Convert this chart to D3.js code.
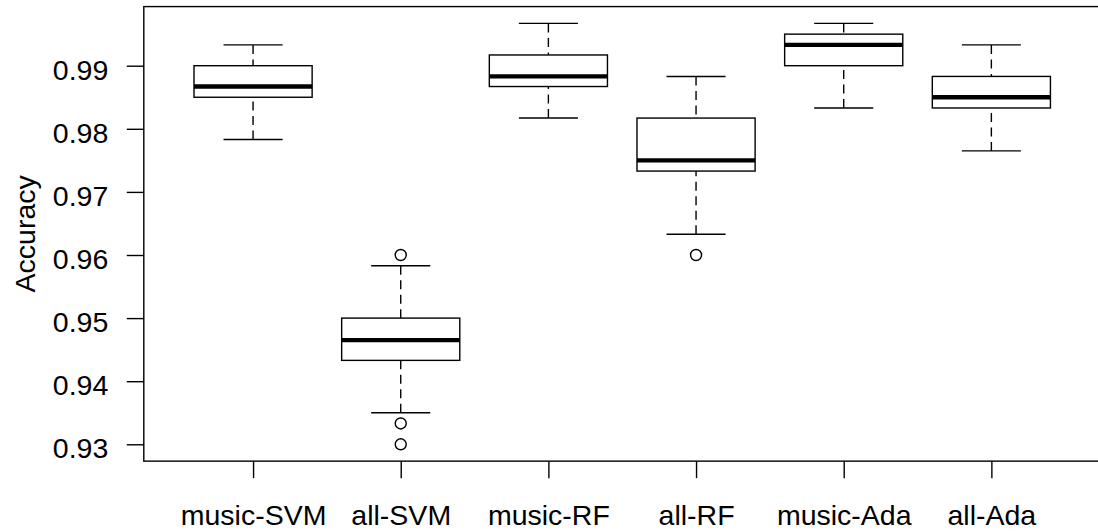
<!DOCTYPE html>
<html>
<head>
<meta charset="utf-8">
<script src="https://cdn.jsdelivr.net/npm/d3@7"></script>
<style>
  html, body { margin: 0; padding: 0; background: #fff; }
  svg { display: block; }
  text { font-family: "Liberation Sans", Arial, sans-serif; fill: #000; }
</style>
</head>
<body>
<svg id="chart" width="1098" height="531"></svg>
<script>
// ---- data ----
const categories  = ["music-SVM", "all-SVM", "music-RF", "all-RF", "music-Ada", "all-Ada"];
const whiskerLow  = [0.9783, 0.9350, 0.9817, 0.9633, 0.9833, 0.9765];
const q1          = [0.9850, 0.9433, 0.9867, 0.9733, 0.9900, 0.9833];
const medians     = [0.9867, 0.9465, 0.9883, 0.9750, 0.9933, 0.9850];
const q3          = [0.9900, 0.9500, 0.9917, 0.9817, 0.9950, 0.9883];
const whiskerHigh = [0.9933, 0.9583, 0.9967, 0.9883, 0.9967, 0.9933];
const outliers    = [[], [0.9600, 0.9333, 0.9300], [], [0.9600], [], []];
const yTicks      = [0.93, 0.94, 0.95, 0.96, 0.97, 0.98, 0.99];
const yLabel      = "Accuracy";

// ---- layout ----
const svg = d3.select("#chart");
const lw = 1.4;
const fontSize = 28.5;

// x: positions 1..n, R-style limits [0.5, n+0.5] extended 4%
const n = categories.length;
const xLo = 0.5 - 0.04 * n, xHi = n + 0.5 + 0.04 * n;
const x = d3.scaleLinear().domain([xLo, xHi]).range([143.8, 143.8 + (xHi - xLo) * 147.66]);

// y: data range extended 4%
const allVals = whiskerLow.concat(whiskerHigh, outliers.flat());
const dMin = d3.min(allVals), dMax = d3.max(allVals);
const ext = (dMax - dMin) * 0.04;
const y = d3.scaleLinear().domain([0.93, 0.99]).range([444.3, 65.7]);
const yLo = dMin - ext, yHi = dMax + ext;

const boxW = 0.8 * (x(2) - x(1));
const stapleW = boxW / 2;

// frame
svg.append("rect")
  .attr("x", x(xLo)).attr("y", y(yHi))
  .attr("width", x(xHi) - x(xLo)).attr("height", y(yLo) - y(yHi))
  .attr("fill", "none").attr("stroke", "#000").attr("stroke-width", lw);

// y axis
const yAxis = svg.append("g")
  .attr("transform", `translate(${x(xLo)},0)`)
  .call(d3.axisLeft(y).tickValues(yTicks).tickSize(17).tickPadding(18.5)
        .tickFormat(d3.format(".2f")));
yAxis.select(".domain").remove();
yAxis.selectAll("line").attr("stroke", "#000").attr("stroke-width", lw);
yAxis.selectAll("text").attr("dy", "0.47em")
  .style("font-size", fontSize + "px").style("font-family", '"Liberation Sans", Arial, sans-serif').attr("fill", "#000");

// x axis
const xAxis = svg.append("g")
  .attr("transform", `translate(0,${y(yLo)})`)
  .call(d3.axisBottom(x).tickValues(d3.range(1, n + 1)).tickSize(17).tickPadding(27)
        .tickFormat(i => categories[i - 1]));
xAxis.select(".domain").remove();
xAxis.selectAll("line").attr("stroke", "#000").attr("stroke-width", lw);
xAxis.selectAll("text")
  .style("font-size", fontSize + "px").style("font-family", '"Liberation Sans", Arial, sans-serif').attr("fill", "#000");

// y label
svg.append("text")
  .attr("transform", `translate(35.4,${(y(yLo) + y(yHi)) / 2}) rotate(-90)`)
  .attr("text-anchor", "middle")
  .style("font-size", fontSize + "px")
  .text(yLabel);

// boxes
const g = svg.append("g");
categories.forEach((c, i) => {
  const cx = x(i + 1);
  const bg = g.append("g");
  // whiskers (dashed)
  bg.append("line").attr("x1", cx).attr("x2", cx)
    .attr("y1", y(whiskerLow[i])).attr("y2", y(q1[i]))
    .attr("stroke", "#000").attr("stroke-width", lw).attr("stroke-dasharray", "9,5.5");
  bg.append("line").attr("x1", cx).attr("x2", cx)
    .attr("y1", y(whiskerHigh[i])).attr("y2", y(q3[i]))
    .attr("stroke", "#000").attr("stroke-width", lw).attr("stroke-dasharray", "9,5.5");
  // staples
  [whiskerLow[i], whiskerHigh[i]].forEach(v => {
    bg.append("line").attr("x1", cx - stapleW / 2).attr("x2", cx + stapleW / 2)
      .attr("y1", y(v)).attr("y2", y(v))
      .attr("stroke", "#000").attr("stroke-width", lw);
  });
  // box
  bg.append("rect")
    .attr("x", cx - boxW / 2).attr("width", boxW)
    .attr("y", y(q3[i])).attr("height", y(q1[i]) - y(q3[i]))
    .attr("fill", "#fff").attr("stroke", "#000").attr("stroke-width", lw);
  // median
  bg.append("line").attr("x1", cx - boxW / 2).attr("x2", cx + boxW / 2)
    .attr("y1", y(medians[i])).attr("y2", y(medians[i]))
    .attr("stroke", "#000").attr("stroke-width", 4.3);
  // outliers
  outliers[i].forEach(v => {
    bg.append("circle").attr("cx", cx).attr("cy", y(v)).attr("r", 5.5)
      .attr("fill", "none").attr("stroke", "#000").attr("stroke-width", lw);
  });
});
</script>
</body>
</html>
